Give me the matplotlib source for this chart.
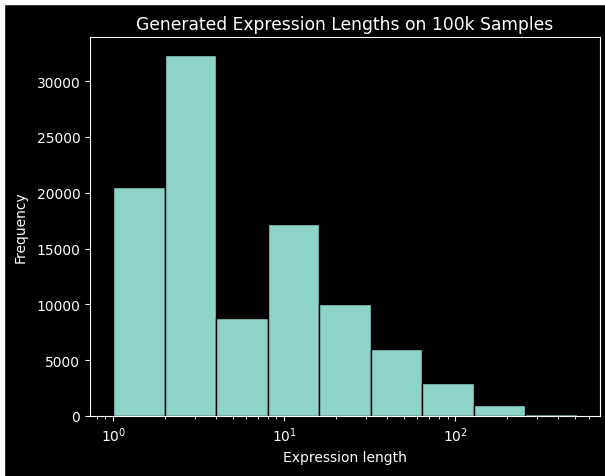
import numpy as np
import matplotlib.pyplot as plt
from matplotlib.patches import Rectangle

# histogram bin edges (powers of two) and counts
bin_edges = [1, 2, 4, 8, 16, 32, 64, 128, 256, 512]
counts = [20550, 32330, 8800, 17240, 10060, 6020, 3000, 990, 150]

plt.style.use("dark_background")

fig = plt.figure(figsize=(6.05, 4.77), dpi=100)
ax = fig.add_axes([0.1488, 0.1258, 0.8429, 0.7945])

edges = np.asarray(bin_edges, dtype=float)
ax.hist(edges[:-1], bins=edges, weights=counts, color="#8dd3c7", edgecolor="black")
ax.set_xscale("log")
ax.set_xlabel("Expression length")
ax.set_ylabel("Frequency", labelpad=6)
ax.set_title("Generated Expression Lengths on 100k Samples", fontsize=12.3)

# white strips at the top and left edges of the screenshot
fig.patches.append(Rectangle((0, 0), 4 / 605, 1, transform=fig.transFigure, color="white", zorder=10))
fig.patches.append(Rectangle((0, 1 - 5 / 477), 1, 5 / 477, transform=fig.transFigure, color="white", zorder=10))

fig.savefig("out.png", dpi=100)
